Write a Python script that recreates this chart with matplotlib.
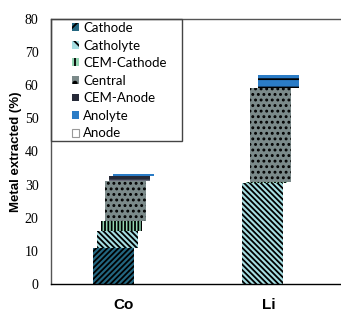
import matplotlib
matplotlib.use("Agg")
import matplotlib.pyplot as plt
from matplotlib.patches import Rectangle
import numpy as np

plt.rcParams['hatch.linewidth'] = 1.3

metals = ["Co", "Li"]
segments = ["Cathode", "Catholyte", "CEM-Cathode", "Central", "CEM-Anode", "Anolyte", "Anode"]
co_values = [10.9, 5.1, 3.0, 12.1, 1.5, 0.5, 0.0]
li_values = [0.0, 30.5, 0.2, 28.4, 0.0, 3.9, 0.0]
yticks = [0, 10, 20, 30, 40, 50, 60, 70, 80]

colors = ["#236680", "#a6dee2", "#93d6b2", "#7b8a8a", "#262a38", "#2b7cc6", "#ffffff"]
hatches = ["//////", "\\\\\\\\\\\\", "|||||", "...", "---", "--", ""]
legend_hatches = ["//", "\\\\", "|||", ".", "-", "", ""]
hatch_cols = ["black", "black", "black", "black", "#6a6e7c", "black", "#999999"]

fig = plt.figure(figsize=(3.41, 3.27), dpi=100)
ax = fig.add_axes([51/341, 1-284/327, 290/341, 265/327])

width = 0.276
step = 0.0276
data = np.array([co_values, li_values])
xs = np.arange(len(metals))
for i, seg in enumerate(segments):
    bottoms = data[:, :i].sum(axis=1)
    ax.bar(xs + (i - 2.5) * step, data[:, i], width=width, bottom=bottoms,
           color=colors[i], hatch=hatches[i], edgecolor=hatch_cols[i],
           linewidth=0, label=seg)

ax.set_xlim(-0.5, 1.5)
ax.set_ylim(0, 80)
ax.set_yticks(yticks)
ax.set_xticks(xs)
ax.set_xticklabels(metals, fontsize=11, fontweight='bold', family='Liberation Sans')
for lab in ax.get_yticklabels():
    lab.set_family('Liberation Serif')
    lab.set_fontsize(10)
ax.tick_params(axis='y', length=0, pad=9)
ax.tick_params(axis='x', length=0, pad=10)
ax.set_ylabel("Metal extracted (%)", fontsize=9.5, fontweight='bold', family='Liberation Sans')
ax.yaxis.set_label_coords(-0.1, 0.5)
ax.spines['right'].set_visible(False)
for s in ['left', 'bottom', 'top']:
    ax.spines[s].set_linewidth(1.0)
ax.spines['top'].set_color('#555555')
ax.spines['left'].set_color('#555555')

# legend frame
ax.add_patch(Rectangle((0, (284-141)/265), (182-51)/290, 1 - (284-141)/265,
                       transform=ax.transAxes, fill=False, edgecolor='#444444',
                       linewidth=1.0, zorder=5, clip_on=False))
leg = ax.legend(loc='upper left', bbox_to_anchor=((72-51)/290, 1 - 3/265), frameon=False,
                prop={'family': 'Lato', 'size': 9.5},
                handlelength=0.55, handleheight=0.55, handletextpad=0.3,
                labelspacing=0.42, borderpad=0, borderaxespad=0)
for p, h in zip(leg.get_patches(), legend_hatches):
    p.set_linewidth(0)
    p.set_hatch(h)
leg.get_patches()[-1].set_linewidth(0.8)
leg.get_patches()[-1].set_edgecolor('#999999')

fig.savefig("out.png", dpi=100)
